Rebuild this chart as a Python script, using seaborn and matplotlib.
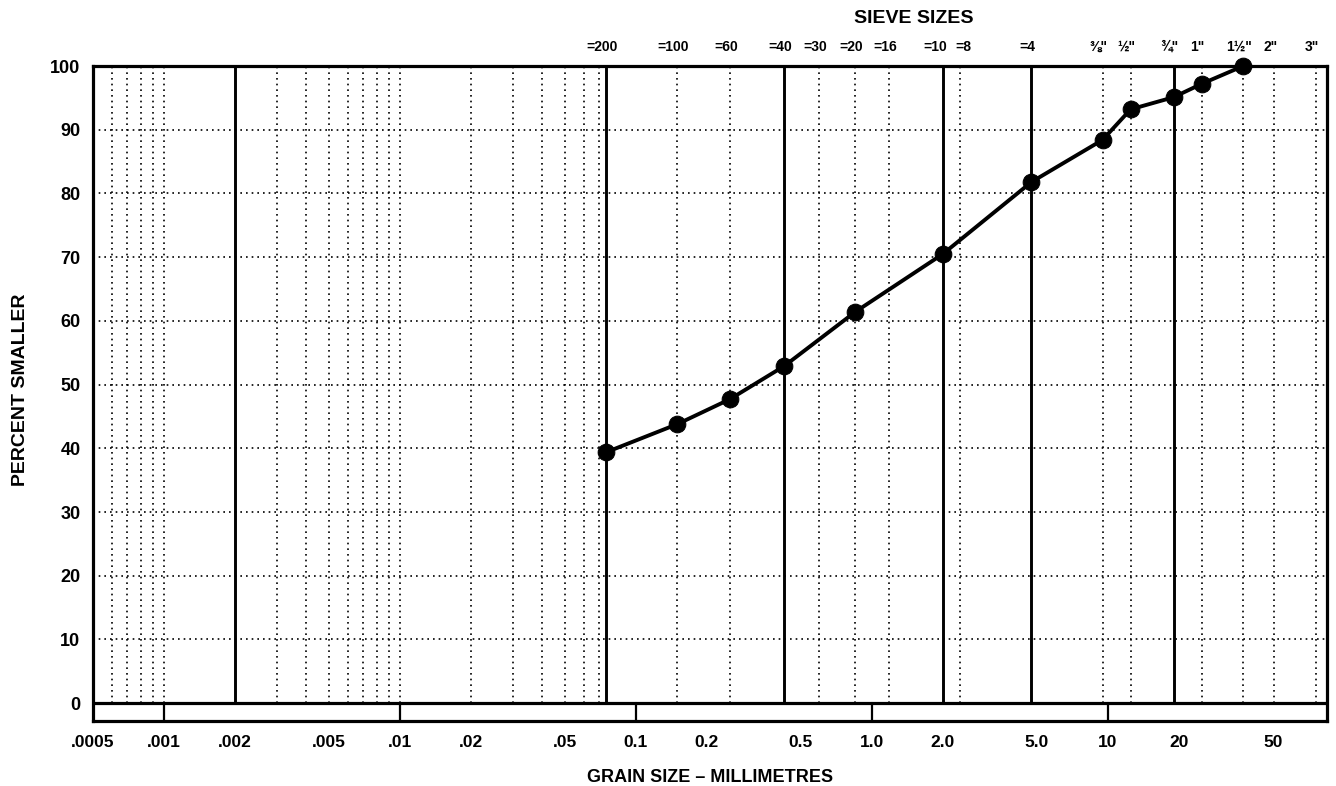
import matplotlib
matplotlib.use("Agg")
import matplotlib.pyplot as plt
import matplotlib.transforms as mtransforms
import seaborn as sns
import numpy as np
import pandas as pd

# ---- data ----
grain_mm = [0.075, 0.15, 0.25, 0.425, 0.85, 2.0, 4.75, 9.5, 12.5, 19.0, 25.0, 37.5]
percent_smaller = [39.4, 43.8, 47.7, 52.9, 61.4, 70.5, 81.8, 88.4, 93.2, 95.1, 97.2, 100.0]

sieve_labels = ["=200", "=100", "=60", "=40", "=30", "=20", "=16", "=10", "=8", "=4",
                "\u215c\"", "\u00bd\"", "\u00be\"", "1\"", "1\u00bd\"", "2\"", "3\""]
sieve_mm = [0.075, 0.15, 0.25, 0.425, 0.6, 0.85, 1.18, 2.0, 2.36, 4.75,
            9.5, 12.5, 19.0, 25.0, 37.5, 50.8, 76.2]

heavy_lines_mm = [0.002, 0.075, 0.425, 2.0, 4.75, 19.0]
decade_marks_mm = [0.001, 0.01, 0.1, 1.0, 10.0]

xtick_vals = [0.0005, 0.001, 0.002, 0.005, 0.01, 0.02, 0.05, 0.1, 0.2, 0.5, 1.0, 2.0, 5.0, 10, 20, 50]
xtick_labels = [".0005", ".001", ".002", ".005", ".01", ".02", ".05", "0.1", "0.2", "0.5",
                "1.0", "2.0", "5.0", "10", "20", "50"]
ytick_vals = [0, 10, 20, 30, 40, 50, 60, 70, 80, 90, 100]

# ---- style ----
sns.set_style("white")
plt.rcParams['font.family'] = ['Liberation Sans', 'DejaVu Sans']
plt.rcParams['text.color'] = 'black'
plt.rcParams['axes.labelcolor'] = 'black'
plt.rcParams['xtick.color'] = 'black'
plt.rcParams['ytick.color'] = 'black'

fig = plt.figure(figsize=(13.36, 7.86), dpi=100)
ax = fig.add_axes([0.0696, 0.0827, 0.9237, 0.8333])

XMIN, XMAX = 0.0005, 85
YMIN, YMAX = -2.8, 100
ax.set_xscale("log")
ax.set_xlim(XMIN, XMAX)
ax.set_ylim(YMIN, YMAX)

dot = (0, (1, 2.4))
# horizontal dotted grid
for y in range(10, 100, 10):
    ax.plot([XMIN, XMAX], [y, y], color="black", lw=1.2, ls=dot, zorder=1)

# vertical dotted grid: log minor ticks below #200, sieve sizes above
fine = []
for dec in [1e-4, 1e-3, 1e-2]:
    for m in range(1, 10):
        v = m * dec
        if XMIN < v < 0.075 and v not in heavy_lines_mm:
            fine.append(v)
for v in fine + [s for s in sieve_mm if s not in heavy_lines_mm]:
    ax.plot([v, v], [0, 100], color="black", lw=1.2, ls=dot, zorder=1)

# heavy vertical lines
for v in heavy_lines_mm:
    ax.plot([v, v], [0, 100], color="black", lw=2.1, zorder=2)

# zero line and lower strip
ax.axhline(0, color="black", lw=2.3, zorder=2)
for v in decade_marks_mm:
    ax.plot([v, v], [YMIN, 0], color="black", lw=1.6, zorder=2)

# data curve
df = pd.DataFrame({"grain": grain_mm, "pct": percent_smaller})
sns.lineplot(data=df, x="grain", y="pct", ax=ax, color="black", lw=2.8,
             marker="o", markersize=12, markeredgecolor="black", zorder=5,
             clip_on=False)

for sp in ax.spines.values():
    sp.set_linewidth(2.3)
    sp.set_color("black")

ax.set_xticks(xtick_vals)
ax.set_xticklabels(xtick_labels, fontsize=12.5, fontweight="bold", color="black")
ax.xaxis.set_minor_locator(matplotlib.ticker.NullLocator())
ax.set_yticks(ytick_vals)
ax.set_yticklabels([str(v) for v in ytick_vals], fontsize=13, fontweight="bold", color="black")
ax.tick_params(axis="both", length=0, colors="black")
ax.tick_params(axis="x", pad=10)
ax.tick_params(axis="y", pad=9)

ax.set_xlabel("GRAIN SIZE \u2013 MILLIMETRES", fontsize=13, fontweight="bold", labelpad=14, color="black")
ax.set_ylabel("PERCENT SMALLER", fontsize=14, fontweight="bold", color="black")
ax.yaxis.set_label_coords(-0.052, 0.505)

# sieve labels on top
special = {"=10": ("right", 4), "=8": ("left", -4)}
for lab, v in zip(sieve_labels, sieve_mm):
    ha, dx = special.get(lab, ("center", -4))
    tr = ax.transData + mtransforms.ScaledTranslation(dx / 100, 0, fig.dpi_scale_trans)
    ax.text(v, 101.9, lab, ha=ha, va="bottom", fontsize=10, fontweight="bold",
            color="black", transform=tr)
ax.text(1.5, 106.2, "SIEVE SIZES", ha="center", va="bottom", fontsize=14,
        fontweight="bold", color="black")

fig.savefig("out.png", dpi=100)
